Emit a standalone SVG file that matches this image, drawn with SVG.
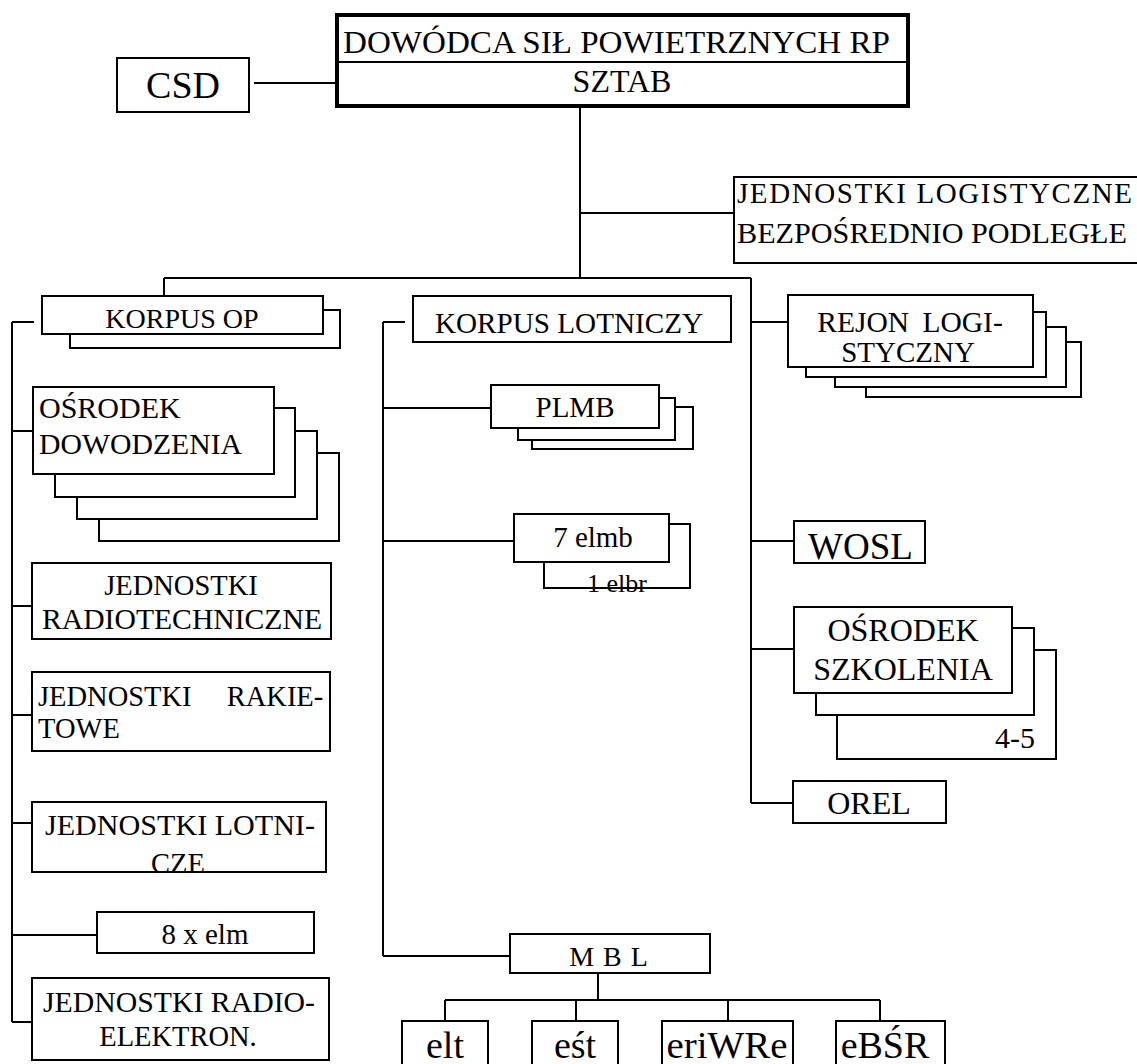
<svg xmlns="http://www.w3.org/2000/svg" width="1137" height="1064" viewBox="0 0 1137 1064" font-family="'Liberation Serif', 'Times New Roman', 'DejaVu Serif', serif">
<style>
  .b { fill: #fff; stroke: #000; stroke-width: 2; }
  .ln { fill: none; stroke: #000; stroke-width: 2; }
  text { font-family: 'Liberation Serif', 'Times New Roman', 'DejaVu Serif', serif; fill: #000; }
  .c { text-anchor: middle; }
</style>
<rect width="1137" height="1064" fill="#fff"/>
<g id="connectors" class="ln">
  <path d="M254 83 H340"/>
  <path d="M580 106 V278"/>
  <path d="M580 213 H734"/>
  <path d="M164 278 H751"/>
  <path d="M164 278 V296"/>
  <path d="M751 278 V803"/>
  <path d="M12 322 V1022"/>
  <path d="M12 322 H34"/>
  <path d="M12 431 H33"/>
  <path d="M12 606 H32"/>
  <path d="M12 715 H32"/>
  <path d="M12 823 H32"/>
  <path d="M12 935 H97"/>
  <path d="M12 1022 H32"/>
  <path d="M383 322 V956"/>
  <path d="M383 322 H405"/>
  <path d="M383 408 H491"/>
  <path d="M383 541 H514"/>
  <path d="M383 956 H510"/>
  <path d="M751 322 H788"/>
  <path d="M751 541 H794"/>
  <path d="M751 649 H794"/>
  <path d="M751 803 H794"/>
  <path d="M598 973 V1000"/>
  <path d="M445 1000 H880"/>
  <path d="M445 1000 V1021"/>
  <path d="M576 1000 V1021"/>
  <path d="M728 1000 V1021"/>
  <path d="M880 1000 V1021"/>
</g>
<g id="dowodca">
  <rect x="337" y="15" width="571" height="91" fill="#fff" stroke="#000" stroke-width="4"/>
  <path d="M337 62 H908" stroke="#000" stroke-width="2"/>
  <text x="343" y="53" font-size="32" textLength="547" lengthAdjust="spacingAndGlyphs">DOWÓDCA SIŁ POWIETRZNYCH RP</text>
  <text x="622" y="92" font-size="32" class="c">SZTAB</text>
</g>
<g id="csd">
  <rect class="b" x="117" y="58" width="132" height="54"/>
  <text x="183" y="98" font-size="38" class="c">CSD</text>
</g>
<g id="jednostki-logistyczne">
  <rect class="b" x="734" y="177" width="406" height="86"/>
  <text x="737" y="203" font-size="29" textLength="395" lengthAdjust="spacing">JEDNOSTKI   LOGISTYCZNE</text>
  <text x="737" y="243" font-size="29" textLength="390" lengthAdjust="spacingAndGlyphs">BEZPOŚREDNIO PODLEGŁE</text>
</g>
<g id="korpus-op">
  <rect class="b" x="70" y="310" width="270" height="38"/>
  <rect class="b" x="42" y="296" width="281" height="38"/>
  <text x="182" y="328" font-size="28" class="c">KORPUS OP</text>
</g>
<g id="osrodek-dowodzenia">
  <rect class="b" x="99" y="453" width="240" height="88"/>
  <rect class="b" x="77" y="431" width="240" height="88"/>
  <rect class="b" x="55" y="408" width="240" height="89"/>
  <rect class="b" x="33" y="387" width="241" height="87"/>
  <text x="39" y="418" font-size="30">OŚRODEK</text>
  <text x="39" y="454" font-size="30" textLength="203" lengthAdjust="spacingAndGlyphs">DOWODZENIA</text>
</g>
<g id="jednostki-radiotechniczne">
  <rect class="b" x="32" y="563" width="299" height="76"/>
  <text x="181" y="595" font-size="28.5" class="c">JEDNOSTKI</text>
  <text x="182" y="629" font-size="28.5" class="c" textLength="280" lengthAdjust="spacingAndGlyphs">RADIOTECHNICZNE</text>
</g>
<g id="jednostki-rakietowe">
  <rect class="b" x="32" y="672" width="298" height="79"/>
  <text x="38" y="706" font-size="28.5" word-spacing="28">JEDNOSTKI RAKIE-</text>
  <text x="38" y="738" font-size="28.5">TOWE</text>
</g>
<g id="jednostki-lotnicze">
  <rect class="b" x="32" y="802" width="294" height="70"/>
  <text x="180" y="835" font-size="28.5" class="c" textLength="270" lengthAdjust="spacingAndGlyphs">JEDNOSTKI LOTNI-</text>
  <text x="178" y="873" font-size="28.5" class="c">CZE</text>
</g>
<g id="elm">
  <rect class="b" x="97" y="912" width="217" height="41"/>
  <text x="205" y="944" font-size="29" class="c">8 x elm</text>
</g>
<g id="jednostki-radioelektron">
  <rect class="b" x="32" y="978" width="297" height="82"/>
  <text x="179" y="1012" font-size="28.5" class="c" textLength="272" lengthAdjust="spacingAndGlyphs">JEDNOSTKI RADIO-</text>
  <text x="178" y="1046" font-size="28.5" class="c">ELEKTRON.</text>
</g>
<g id="korpus-lotniczy">
  <rect class="b" x="413" y="296" width="318" height="46"/>
  <text x="569" y="333" font-size="28.5" class="c" textLength="268" lengthAdjust="spacingAndGlyphs">KORPUS LOTNICZY</text>
</g>
<g id="plmb">
  <rect class="b" x="532" y="407" width="161" height="42"/>
  <rect class="b" x="518" y="398" width="157" height="42"/>
  <rect class="b" x="491" y="385" width="168" height="43"/>
  <text x="575" y="417" font-size="29" class="c">PLMB</text>
</g>
<g id="elmb">
  <rect class="b" x="544" y="524" width="146" height="64"/>
  <text x="617" y="592" font-size="26" class="c">1 elbr</text>
  <path d="M544 588 H690" stroke="#000" stroke-width="2"/>
  <rect class="b" x="514" y="514" width="155" height="48"/>
  <text x="593" y="547" font-size="29" class="c">7 elmb</text>
</g>
<g id="mbl">
  <rect class="b" x="510" y="934" width="200" height="39"/>
  <text x="609" y="966" font-size="28" class="c" letter-spacing="1">M B L</text>
</g>
<g id="elt">
  <rect class="b" x="402" y="1021" width="86" height="60"/>
  <text x="445" y="1058" font-size="38" class="c">elt</text>
</g>
<g id="est">
  <rect class="b" x="532" y="1021" width="86" height="60"/>
  <text x="575" y="1058" font-size="38" class="c">eśt</text>
</g>
<g id="eriwre">
  <rect class="b" x="662" y="1021" width="131" height="60"/>
  <text x="727" y="1058" font-size="38" class="c" textLength="121" lengthAdjust="spacingAndGlyphs">eriWRe</text>
</g>
<g id="ebsr">
  <rect class="b" x="836" y="1021" width="109" height="60"/>
  <text x="885" y="1058" font-size="38" class="c">eBŚR</text>
</g>
<g id="rejon-logistyczny">
  <rect class="b" x="866" y="342" width="215" height="55"/>
  <rect class="b" x="835" y="327" width="231" height="60"/>
  <rect class="b" x="806" y="312" width="240" height="65"/>
  <rect class="b" x="788" y="295" width="245" height="72"/>
  <text x="910" y="332" font-size="29.5" class="c" word-spacing="6">REJON LOGI-</text>
  <text x="908" y="362" font-size="29" class="c">STYCZNY</text>
</g>
<g id="wosl">
  <rect class="b" x="794" y="521" width="131" height="42"/>
  <text x="808" y="559" font-size="37">WOSL</text>
</g>
<g id="osrodek-szkolenia">
  <rect class="b" x="837" y="650" width="219" height="109"/>
  <rect class="b" x="816" y="628" width="218" height="87"/>
  <rect class="b" x="794" y="607" width="218" height="86"/>
  <text x="903" y="641" font-size="32" class="c">OŚRODEK</text>
  <text x="903" y="680" font-size="32" class="c">SZKOLENIA</text>
  <text x="1035" y="748" font-size="30" text-anchor="end">4-5</text>
</g>
<g id="orel">
  <rect class="b" x="793" y="781" width="153" height="42"/>
  <text x="869" y="814" font-size="32" class="c">OREL</text>
</g>
</svg>
